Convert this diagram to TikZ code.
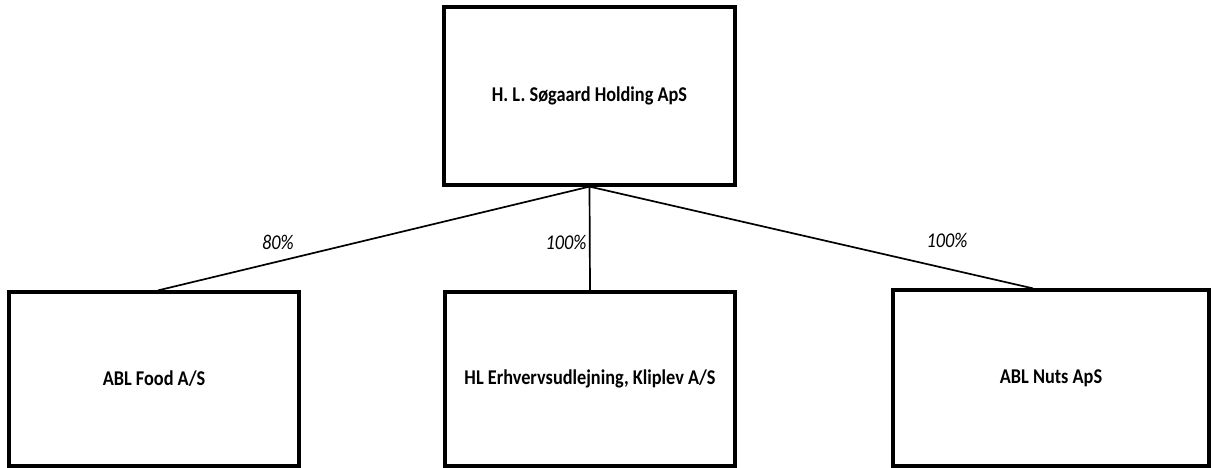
\documentclass[tikz,border=0pt]{standalone}
\usepackage{fontspec}
\setmainfont{Carlito}[FakeStretch=0.87]
\begin{document}
\begin{tikzpicture}[x=1pt,y=-1pt,
  company/.style={draw=black, line width=3.2pt, fill=white, inner sep=0pt,
    font=\fontsize{21}{25}\selectfont\bfseries},
  link/.style={draw=black, line width=1.7pt},
  pct/.style={font=\fontsize{21}{25}\selectfont\itshape, inner sep=0pt}]
\useasboundingbox (0,0) rectangle (1215,468);
\fill[white] (0,0) rectangle (1215,468);
\node[company, minimum width=291pt, minimum height=178pt] (top) at (589.5,96) {H. L. Søgaard Holding ApS};
\node[company, minimum width=290pt, minimum height=174pt] (food) at (154,379) {ABL Food A/S};
\node[company, minimum width=290pt, minimum height=174pt] (erhv) at (590,379) {HL Erhvervsudlejning, Kliplev A/S};
\node[company, minimum width=316pt, minimum height=176pt] (nuts) at (1051,378) {ABL Nuts ApS};
\coordinate (foodin) at ([xshift=4pt]food.north);
\coordinate (nutsin) at ([xshift=-18pt]nuts.north);
\draw[link] (top.south) -- (foodin);
\draw[link] (top.south) -- (erhv.north);
\draw[link] (top.south) -- (nutsin);
\node[pct] (p1) at (278,242) {80\%};
\node[pct] (p2) at (566,242) {100\%};
\node[pct] (p3) at (947,240) {100\%};
\end{tikzpicture}
\end{document}
